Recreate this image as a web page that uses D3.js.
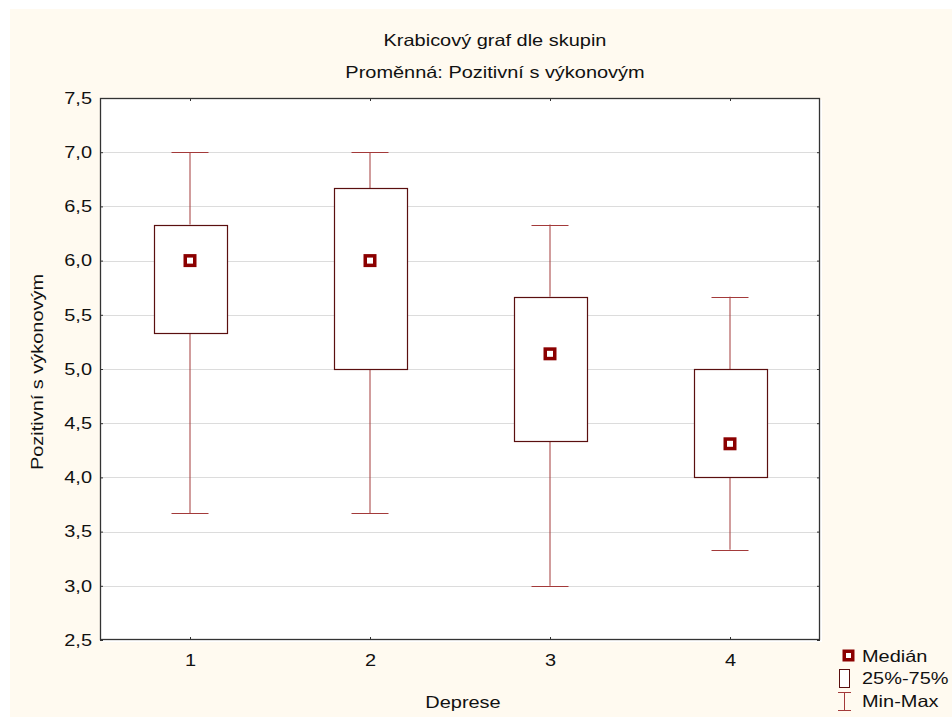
<!DOCTYPE html>
<html><head><meta charset="utf-8">
<script src="https://cdn.jsdelivr.net/npm/d3@7"></script>
<style>body{margin:0;background:#fff}text{font-family:"Liberation Sans",Arial,sans-serif;fill:#111}</style>
</head><body><svg id="c" width="952" height="717"></svg>
<script>
const categories = ["1","2","3","4"];
const mins    = [3.667, 3.667, 3.0,   3.333];
const q1s     = [5.333, 5.0,   4.333, 4.0];
const medians = [6.0,   6.0,   5.14,  4.31];
const q3s     = [6.333, 6.667, 5.667, 5.0];
const maxs    = [7.0,   7.0,   6.333, 5.667];
const yTicks  = [2.5,3.0,3.5,4.0,4.5,5.0,5.5,6.0,6.5,7.0,7.5];
const title1 = "Krabicový graf dle skupin";
const title2 = "Proměnná: Pozitivní s výkonovým";
const xLabel = "Deprese", yLabel = "Pozitivní s výkonovým";
const legendItems = ["Medián","25%-75%","Min-Max"];

const FS = "16.5px", SX = 1.21;
const svg = d3.select("#c");
svg.append("rect").attr("x",10).attr("y",9).attr("width",942).attr("height",708).attr("fill","#fffaf0");
const L=100,R=820,T=98,B=640;
const x = d3.scalePoint().domain(categories).range([L,R]).padding(0.5);
const y = d3.scaleLinear().domain([2.5,7.5]).range([B,T]);
const fmt = d => d.toFixed(1).replace(".",",");
svg.append("rect").attr("x",L+2).attr("y",T+2).attr("width",R-L).attr("height",B-T).attr("fill","#fff");
svg.append("rect").attr("x",L).attr("y",T).attr("width",R-L).attr("height",B-T).attr("fill","#fff");
// grid
svg.append("g").selectAll("line").data(yTicks.slice(1,-1)).join("line")
  .attr("x1",L).attr("x2",R).attr("y1",d=>Math.round(y(d))+0.5).attr("y2",d=>Math.round(y(d))+0.5).attr("stroke","#dcdcdc").attr("stroke-width",1);
// axes
const axL = svg.append("g").attr("transform",`translate(${L},0)`).call(d3.axisLeft(y).tickValues(yTicks).tickFormat(fmt).tickSizeInner(-3).tickSizeOuter(0).tickPadding(8));
const axR = svg.append("g").attr("transform",`translate(${R},0)`).call(d3.axisRight(y).tickValues(yTicks).tickFormat("").tickSizeInner(-3).tickSizeOuter(0));
const axB = svg.append("g").attr("transform",`translate(0,${B})`).call(d3.axisBottom(x).tickSizeInner(-3).tickSizeOuter(0).tickPadding(14));
const axT = svg.append("g").attr("transform",`translate(0,${T})`).call(d3.axisTop(x).tickFormat("").tickSizeInner(-3).tickSizeOuter(0));
[axL,axR,axB,axT].forEach(a=>{a.select(".domain").remove();a.selectAll("line").attr("stroke","#333");a.selectAll("text").style("font-size",FS).attr("fill","#111").style("font-family","Liberation Sans, Arial, sans-serif");});
svg.append("rect").attr("x",L+0.5).attr("y",T+0.5).attr("width",R-L-1).attr("height",B-T-1).attr("fill","none").attr("stroke","#333").attr("stroke-width",1.3);

const idx = d3.range(categories.length);
const bw = 73, cw = 37;
const g = svg.append("g");
const wc = "#a33a3a";
g.selectAll(".wl").data(idx).join("line").attr("x1",i=>x(categories[i])).attr("x2",i=>x(categories[i]))
  .attr("y1",i=>y(maxs[i])).attr("y2",i=>y(q3s[i])).attr("stroke",wc);
g.selectAll(".wl2").data(idx).join("line").attr("x1",i=>x(categories[i])).attr("x2",i=>x(categories[i]))
  .attr("y1",i=>y(q1s[i])).attr("y2",i=>y(mins[i])).attr("stroke",wc);
g.selectAll(".cmax").data(idx).join("line").attr("x1",i=>x(categories[i])-cw/2).attr("x2",i=>x(categories[i])+cw/2)
  .attr("y1",i=>Math.round(y(maxs[i]))+0.5).attr("y2",i=>Math.round(y(maxs[i]))+0.5).attr("stroke",wc);
g.selectAll(".cmin").data(idx).join("line").attr("x1",i=>x(categories[i])-cw/2).attr("x2",i=>x(categories[i])+cw/2)
  .attr("y1",i=>Math.round(y(mins[i]))+0.5).attr("y2",i=>Math.round(y(mins[i]))+0.5).attr("stroke",wc);
g.selectAll(".box").data(idx).join("rect").attr("x",i=>Math.round(x(categories[i])-bw/2)+0.5).attr("width",bw)
  .attr("y",i=>Math.round(y(q3s[i]))+0.5).attr("height",i=>Math.round(y(q1s[i]))-Math.round(y(q3s[i])))
  .attr("fill","#fff").attr("stroke","#5a0f0f").attr("stroke-width",1.2);
g.selectAll(".med").data(idx).join("rect").attr("x",i=>x(categories[i])-4.75).attr("y",i=>y(medians[i])-4.75)
  .attr("width",9.5).attr("height",9.5).attr("fill","#fff").attr("stroke","#8b0000").attr("stroke-width",3.5);

function stretch(sel){
  sel.each(function(){
    const t=d3.select(this);
    const px=+(t.attr("x")||0), py=+(t.attr("y")||0);
    const pre=t.attr("transform")||"";
    t.attr("transform",`${pre} translate(${px},${py}) scale(${SX},1) translate(${-px},${-py})`);
  });
}
const texts = svg.append("g");
texts.append("text").attr("x",495).attr("y",46).attr("text-anchor","middle").text(title1);
texts.append("text").attr("x",495).attr("y",78).attr("text-anchor","middle").text(title2);
texts.append("text").attr("x",463).attr("y",708).attr("text-anchor","middle").text(xLabel);
texts.append("text").attr("transform","translate(43,372) rotate(-90)").attr("text-anchor","middle").text(yLabel);

// legend
const lg = svg.append("g");
lg.append("rect").attr("x",844.25).attr("y",651.25).attr("width",8.5).attr("height",8.5).attr("fill","#fff").attr("stroke","#8b0000").attr("stroke-width",3.5);
lg.append("rect").attr("x",839.5).attr("y",669.5).attr("width",10).attr("height",18).attr("fill","#fff").attr("stroke","#5a0f0f");
lg.append("line").attr("x1",844.5).attr("x2",844.5).attr("y1",692).attr("y2",711).attr("stroke",wc);
lg.append("line").attr("x1",838).attr("x2",851).attr("y1",692.5).attr("y2",692.5).attr("stroke",wc);
lg.append("line").attr("x1",838).attr("x2",851).attr("y1",710.5).attr("y2",710.5).attr("stroke",wc);
lg.selectAll("text").data(legendItems).join("text").attr("x",862).attr("y",(d,i)=>662+i*22.5).text(d=>d);
svg.selectAll("text").style("font-size",FS);
stretch(svg.selectAll("text"));
</script></body></html>
